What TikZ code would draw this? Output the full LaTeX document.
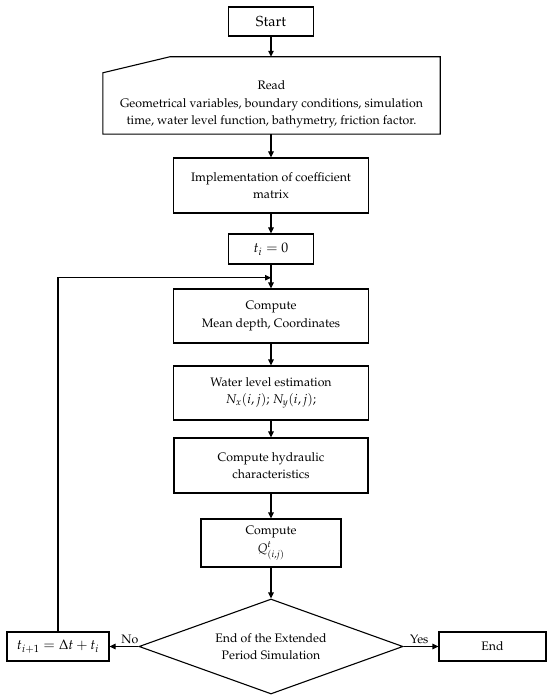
\documentclass[tikz,border=0pt]{standalone}
\usepackage[T1]{fontenc}
\usepackage{mathpazo}
\usetikzlibrary{shapes.geometric,arrows.meta}
\newcommand\fsz{\fontsize{12.3}{17.5}\selectfont}
\newcommand\fszm{\fontsize{13.8}{17.5}\selectfont}
\begin{document}
\begin{tikzpicture}[x=1pt,y=-1pt,
  box/.style={draw,line width=1.1pt,rectangle,align=center,font=\fsz,inner sep=2pt},
  arr/.style={line width=1.1pt,-{Triangle[length=6pt,width=5.5pt]}},
  lbl/.style={font=\fsz,inner sep=2pt}]
\useasboundingbox (0,0) rectangle (550,700);
\node[box,minimum width=85pt,minimum height=29pt,font=\fontsize{14.5}{17}\selectfont] (start) at (271,21.5) {Start};
\node[minimum width=337pt,minimum height=77pt,inner sep=0pt] (read) at (271.5,95.5) {};
\draw[line width=1.1pt] (read.south west) -- ([yshift=-16pt]read.north west) -- ([xshift=67pt]read.north west) -- (read.north east) -- (read.south east) -- cycle;
\node[align=center,font=\fsz] (readtxt) at (271.5,104.5) {Read\\Geometrical variables, boundary conditions, simulation\\time, water level function, bathymetry, friction factor.};
\node[box,minimum width=195pt,minimum height=55pt] (impl) at (271,185.5) {Implementation of coefficient\\matrix};
\node[box,minimum width=85pt,minimum height=30pt,font=\fszm] (t0) at (271,249) {$t_i = 0$};
\node[box,minimum width=195pt,minimum height=54pt] (comp) at (271,316) {Compute\\Mean depth, Coordinates};
\node[box,minimum width=195pt,minimum height=54pt] (water) at (271,393) {Water level estimation\\{\fontsize{12.8}{17.5}\selectfont$N_x(i,j)$;\ $N_y(i,j)$;}};
\node[box,minimum width=194pt,minimum height=55pt] (hyd) at (271,465.5) {Compute hydraulic\\characteristics};
\node[box,minimum width=140pt,minimum height=48pt] (q) at (271,543) {Compute\\$Q^t_{(i,j)}$};
\node[draw,diamond,aspect=2.78,line width=1.1pt,minimum width=264pt,minimum height=95pt,inner sep=0pt,align=center,font=\fsz] (dec) at (271,646.5) {End of the Extended\\Period Simulation};
\node[box,minimum width=102pt,minimum height=29pt,font=\fszm] (inc) at (58,646.5) {$t_{i+1} = \Delta t + t_i$};
\node[box,minimum width=107pt,minimum height=29pt] (end) at (492.5,646.5) {End};
\coordinate (merge) at (271,277.7);
\draw[arr] (start.south) -- (start.south |- read.north);
\draw[arr] (read.south -| impl.north) -- (impl.north);
\draw[arr] (impl) -- (t0);
\draw[arr] (t0) -- (comp);
\draw[arr] (comp) -- (water);
\draw[arr] (water) -- (hyd);
\draw[arr] (hyd) -- (q);
\draw[arr] (q) -- (dec);
\draw[arr] (inc.north) |- (merge);
\draw[arr] (dec.west) -- node[lbl,above,pos=0.3] {No} (inc.east);
\draw[arr] (dec.east) -- node[lbl,above,pos=0.45] {Yes} (end.west);
\end{tikzpicture}
\end{document}
